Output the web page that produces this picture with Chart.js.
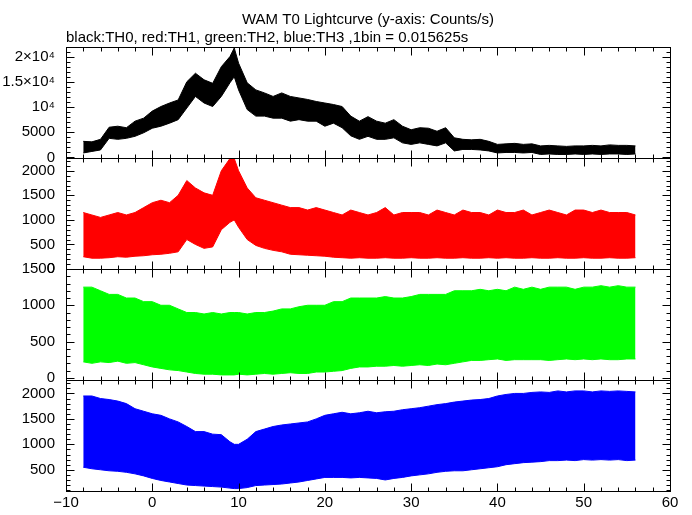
<!DOCTYPE html>
<html>
<head>
<meta charset="utf-8">
<title>WAM T0 Lightcurve</title>
<script src="https://cdn.jsdelivr.net/npm/chart.js@4.4.0/dist/chart.umd.min.js"></script>
<style>
  body { margin: 0; background: #fff; }
  #lc { display: block; }
</style>
</head>
<body>
<canvas id="lc" width="692" height="515"></canvas>
<script>
// time since T0 (s)
const timeSec = [-8, -7, -6, -5, -4, -3, -2, -1,
  0, 1, 2, 3, 4, 5, 6, 7, 8, 9, 9.5,
  10, 11, 12, 13, 14, 15, 16, 17, 18, 19,
  20, 21, 22, 23, 24, 25, 26, 27, 28, 29,
  30, 31, 32, 33, 34, 35, 36, 37, 38, 39,
  40, 41, 42, 43, 44, 45, 46, 47, 48, 49,
  50, 51, 52, 53, 54, 55, 56];

// upper / lower edge of each noisy band (counts/s)
const th0Hi = [3200, 3100, 3600, 6000, 6200, 5900, 7200, 7800,
  9200, 10100, 10800, 11400, 15000, 16700, 15400, 14700, 18000, 20000, 21700,
  18700, 14800, 13400, 12800, 12100, 12800, 12100, 11800, 11500, 11100,
  10800, 10500, 10100, 8200, 7200, 8100, 7200, 6800, 7500, 6200,
  5500, 5900, 5800, 5200, 5900, 3900, 3600, 3500, 3600, 3200,
  2600, 2700, 2800, 2600, 2700, 2300, 2400, 2300, 2200, 2300,
  2300, 2400, 2300, 2500, 2400, 2400, 2300];
const th0Lo = [900, 1200, 1500, 3800, 3600, 3800, 4200, 4900,
  5800, 6200, 6800, 7500, 9800, 12100, 10800, 10100, 12100, 14800, 16000,
  13400, 9500, 8200, 8200, 7800, 7800, 7200, 7500, 7200, 7200,
  6200, 6800, 5900, 4300, 3600, 4200, 3600, 3600, 3900, 2900,
  2600, 2900, 2600, 2300, 2900, 1300, 1600, 1600, 1500, 1300,
  900, 1000, 1000, 900, 1000, 600, 700, 600, 600, 700,
  600, 700, 600, 700, 700, 600, 700];

const th1Hi = [1150, 1100, 1050, 1100, 1150, 1100, 1150, 1250,
  1350, 1400, 1350, 1500, 1800, 1650, 1550, 1500, 2000, 2250, 2250,
  2000, 1650, 1450, 1400, 1350, 1300, 1250, 1250, 1200, 1250,
  1200, 1150, 1100, 1200, 1150, 1100, 1150, 1250, 1100, 1150,
  1150, 1150, 1100, 1200, 1150, 1100, 1200, 1150, 1150, 1100,
  1200, 1150, 1150, 1200, 1100, 1150, 1200, 1150, 1100, 1200,
  1200, 1150, 1200, 1150, 1150, 1150, 1100];
const th1Lo = [250, 220, 220, 230, 250, 240, 260, 270,
  290, 300, 320, 350, 600, 500, 420, 450, 800, 950, 1000,
  850, 600, 480, 420, 380, 350, 300, 290, 280, 270,
  260, 240, 230, 220, 230, 220, 220, 230, 220, 220,
  230, 220, 220, 230, 220, 220, 230, 220, 220, 230,
  220, 230, 220, 220, 230, 220, 220, 230, 220, 220,
  230, 220, 220, 230, 220, 220, 230];

const th2Hi = [1250, 1250, 1200, 1150, 1150, 1100, 1100, 1050,
  1050, 1000, 1000, 950, 900, 900, 880, 900, 880, 900, 900,
  900, 880, 900, 900, 920, 950, 950, 980, 1000, 1000,
  1000, 1050, 1050, 1100, 1100, 1100, 1100, 1120, 1100, 1100,
  1120, 1150, 1150, 1150, 1150, 1200, 1200, 1200, 1220, 1200,
  1220, 1200, 1250, 1220, 1250, 1220, 1250, 1250, 1250, 1220,
  1250, 1250, 1270, 1250, 1270, 1250, 1250];
const th2Lo = [220, 200, 220, 210, 230, 200, 210, 180,
  150, 130, 110, 100, 80, 60, 50, 50, 40, 40, 40,
  50, 40, 50, 60, 50, 60, 70, 60, 60, 80,
  80, 90, 100, 130, 150, 150, 160, 160, 170, 160,
  170, 180, 170, 190, 180, 200, 220, 240, 240, 250,
  260, 240, 250, 250, 250, 250, 240, 250, 260, 250,
  260, 250, 260, 250, 250, 260, 260];

const th3Hi = [1950, 1950, 1900, 1880, 1850, 1800, 1700, 1650,
  1600, 1570, 1500, 1440, 1350, 1250, 1250, 1200, 1190, 1050, 1000,
  1000, 1100, 1250, 1300, 1350, 1380, 1400, 1420, 1440, 1500,
  1570, 1600, 1630, 1600, 1620, 1650, 1620, 1640, 1650, 1680,
  1700, 1720, 1750, 1780, 1800, 1830, 1850, 1870, 1880, 1900,
  1950, 1980, 2000, 2000, 2020, 2030, 2020, 2050, 2030, 2050,
  2050, 2030, 2050, 2040, 2050, 2040, 2030];
const th3Lo = [550, 520, 500, 480, 470, 450, 420, 380,
  330, 290, 260, 230, 200, 190, 180, 170, 160, 140, 130,
  130, 150, 190, 200, 210, 220, 240, 260, 290, 320,
  350, 350, 350, 340, 350, 340, 330, 300, 330, 350,
  380, 400, 420, 450, 470, 480, 480, 500, 520, 540,
  560, 600, 620, 640, 650, 660, 680, 680, 690, 680,
  700, 690, 700, 690, 700, 680, 690];

// labelled y ticks of each panel
const th0Ticks = [0, 5000, 10000, 15000, 20000];
const th0TickLabels = ['0', '5000', '10\u2074', '1.5\u00d710\u2074', '2\u00d710\u2074'];
const th1Ticks = [0, 500, 1000, 1500, 2000];
const th2Ticks = [0, 500, 1000, 1500];
const th3Ticks = [500, 1000, 1500, 2000];
const timeTicks = [-10, 0, 10, 20, 30, 40, 50, 60];

// panels, top to bottom
const panels = [
  { id: 'y0', name: 'TH0', color: '#000000', hi: th0Hi, lo: th0Lo, ticks: th0Ticks, labels: th0TickLabels, min: -100, max: 21900, major: 5000, minor: 1000 },
  { id: 'y1', name: 'TH1', color: '#ff0000', hi: th1Hi, lo: th1Lo, ticks: th1Ticks, min: 0, max: 2260, major: 500, minor: 100 },
  { id: 'y2', name: 'TH2', color: '#00ff00', hi: th2Hi, lo: th2Lo, ticks: th2Ticks, min: -30, max: 1500, major: 500, minor: 100 },
  { id: 'y3', name: 'TH3', color: '#0000ff', hi: th3Hi, lo: th3Lo, ticks: th3Ticks, min: 83, max: 2264, major: 500, minor: 100 }
];

Chart.defaults.font.family = '"Liberation Sans", Arial, Helvetica, sans-serif';
Chart.defaults.font.size = 15;
Chart.defaults.color = '#000';

const datasets = [];
panels.forEach(function(p) {
  datasets.push({
    label: p.name + ' max', data: p.hi, yAxisID: p.id,
    borderColor: p.color, backgroundColor: p.color,
    borderWidth: 1, pointRadius: 0, tension: 0, fill: false
  });
  datasets.push({
    label: p.name + ' min', data: p.lo, yAxisID: p.id,
    borderColor: p.color, backgroundColor: p.color,
    borderWidth: 1, pointRadius: 0, tension: 0, fill: '-1'
  });
});

const scales = {
  x: {
    type: 'linear', position: 'bottom', min: -10, max: 60,
    grid: { display: false, drawTicks: false }, border: { display: false },
    ticks: {
      padding: 3, maxRotation: 0, autoSkip: false,
      callback: function(v) { return v < 0 ? '\u2212' + Math.abs(v) : String(v); }
    },
    afterBuildTicks: function(scale) {
      scale.ticks = timeTicks.map(function(v) { return { value: v }; });
    }
  }
};
panels.forEach(function(p, i) {
  scales[p.id] = {
    type: 'linear', position: 'left', stack: 'lc', stackWeight: 1,
    weight: panels.length - i,
    min: p.min, max: p.max,
    grid: { display: false, drawTicks: false }, border: { display: false },
    ticks: {
      padding: 11, autoSkip: false,
      callback: function(v) {
        if (p.labels) return p.labels[p.ticks.indexOf(v)];
        return String(v);
      }
    },
    afterBuildTicks: function(scale) {
      scale.ticks = p.ticks.map(function(v) { return { value: v }; });
    },
    afterFit: function(scale) { scale.width = 66; }
  };
});

// box + inward tick marks on all four sides of each panel
const frameTicks = {
  id: 'frameTicks',
  afterDatasetsDraw(chart) {
    const ctx = chart.ctx;
    const area = chart.chartArea;
    const xs = chart.scales.x;
    ctx.save();
    ctx.strokeStyle = '#000';
    ctx.lineWidth = 1;
    panels.forEach(function(p) {
      const ys = chart.scales[p.id];
      const top = Math.round(ys.top) + 0.5;
      const bot = Math.round(ys.bottom) + 0.5;
      const left = Math.round(area.left) + 0.5;
      const right = Math.round(area.right) + 0.5;
      ctx.strokeRect(left, top, right - left, bot - top);
      ctx.beginPath();
      for (let v = -10; v <= 60; v += 2) {
        const px = Math.round(xs.getPixelForValue(v)) + 0.5;
        const len = v % 10 === 0 ? 8 : 4;
        ctx.moveTo(px, top); ctx.lineTo(px, top + len);
        ctx.moveTo(px, bot); ctx.lineTo(px, bot - len);
      }
      const first = Math.ceil(p.min / p.minor);
      const last = Math.floor(p.max / p.minor);
      for (let k = first; k <= last; k++) {
        const v = k * p.minor;
        const py = Math.round(ys.getPixelForValue(v)) + 0.5;
        const len = v % p.major === 0 ? 8 : 4;
        ctx.moveTo(left, py); ctx.lineTo(left + len, py);
        ctx.moveTo(right, py); ctx.lineTo(right - len, py);
      }
      ctx.stroke();
    });
    ctx.restore();
  }
};

new Chart(document.getElementById('lc'), {
  type: 'line',
  data: { labels: timeSec, datasets: datasets },
  options: {
    responsive: false,
    animation: false,
    layout: { padding: { left: 0, right: 22, top: 0, bottom: 0 } },
    scales: scales,
    plugins: {
      legend: { display: false },
      tooltip: { enabled: false },
      title: {
        display: true, fullSize: false, align: 'center',
        text: 'WAM T0 Lightcurve (y-axis: Counts/s)',
        font: { size: 15, weight: 'normal' }, color: '#000',
        padding: { top: 11, bottom: 0 }
      },
      subtitle: {
        display: true, fullSize: false, align: 'start',
        text: 'black:TH0, red:TH1, green:TH2, blue:TH3 ,1bin = 0.015625s',
        font: { size: 15, weight: 'normal' }, color: '#000',
        padding: { top: 0, bottom: 0 }
      }
    }
  },
  plugins: [frameTicks]
});
</script>
</body>
</html>
